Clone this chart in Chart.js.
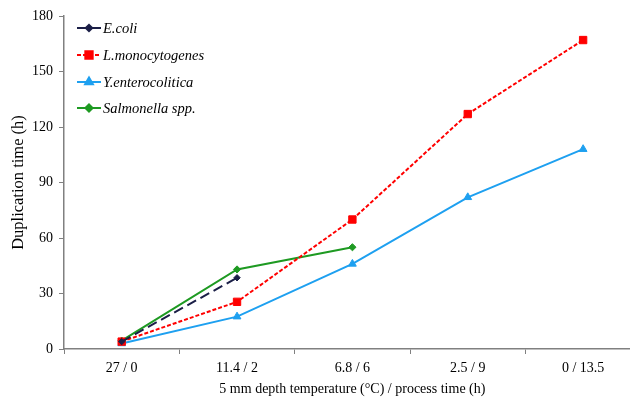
<!DOCTYPE html>
<html lang="en">
  <head>
    <meta charset="UTF-8" />
    <title>Duplication time</title>
    <script src="https://cdn.jsdelivr.net/npm/chart.js"></script>
    <style>
      body {
        margin: 0;
        background: #fff;
        overflow: hidden;
      }
      .wrap {
        width: 647px;
        height: 402px;
        position: relative;
      }
    </style>
  </head>
  <body>
    <div class="wrap">
      <canvas id="chart"></canvas>
    </div>

    <script>
      // categories: 5 mm depth temperature / process time
      const categories = ["27 / 0", "11.4 / 2", "6.8 / 6", "2.5 / 9", "0 / 13.5"];
      const yTicks = [0, 30, 60, 90, 120, 150, 180];

      // duplication time (h)
      const eColi = [4, 38.5, null, null, null];
      const lMono = [4, 25.5, 70, 127, 167];
      const yEnt = [3, 17.5, 46, 82, 108];
      const salmonella = [4.5, 43, 55, null, null];

      const serif = "'Liberation Serif', 'Times New Roman', serif";

      const datasets = [
        {
          label: "E.coli",
          data: eColi,
          borderColor: "#1b1f47",
          backgroundColor: "#1b1f47",
          borderDash: [10, 5],
          pointStyle: "rectRot",
          pointRadius: 3.2,
        },
        {
          label: "L.monocytogenes",
          data: lMono,
          borderColor: "#ff0000",
          backgroundColor: "#ff0000",
          borderDash: [4, 2],
          pointStyle: "rect",
          pointRadius: 5.2,
        },
        {
          label: "Y.enterocolitica",
          data: yEnt,
          borderColor: "#1ea0f0",
          backgroundColor: "#1ea0f0",
          borderDash: [],
          pointStyle: "triangle",
          pointRadius: 4.5,
        },
        {
          label: "Salmonella spp.",
          data: salmonella,
          borderColor: "#1e9a22",
          backgroundColor: "#1e9a22",
          borderDash: [],
          pointStyle: "rectRot",
          pointRadius: 3.6,
        },
      ];
      datasets.forEach((d) => {
        d.borderWidth = 2;
        d.pointBorderWidth = 1;
        d.tension = 0;
        d.spanGaps = false;
      });

      // legend drawn as line sample + marker + italic label
      const lineLegend = {
        id: "lineLegend",
        afterDraw(chart) {
          const ctx = chart.ctx;
          const rows = [28, 55, 82, 108];
          datasets.forEach((d, i) => {
            const y = rows[i];
            ctx.save();
            ctx.strokeStyle = d.borderColor;
            ctx.lineWidth = 2;
            ctx.setLineDash(d.borderDash);
            ctx.beginPath();
            ctx.moveTo(77, y);
            ctx.lineTo(101, y);
            ctx.stroke();
            ctx.setLineDash([]);
            ctx.fillStyle = d.backgroundColor;
            Chart.helpers.drawPoint(ctx, {
              pointStyle: d.pointStyle,
              radius: d.pointRadius,
              borderWidth: 1,
              rotation: 0,
            }, 89, y);
            ctx.font = "italic 14.5px " + serif;
            ctx.fillStyle = "#000";
            ctx.textBaseline = "middle";
            ctx.textAlign = "left";
            ctx.fillText(d.label, 103, y + 1);
            ctx.restore();
          });
        },
      };

      new Chart(document.getElementById("chart"), {
        type: "line",
        data: { labels: categories, datasets: datasets },
        plugins: [lineLegend],
        options: {
          responsive: true,
          maintainAspectRatio: false,
          animation: false,
          layout: { padding: { top: 16, right: 3, left: 0, bottom: 0 } },
          plugins: {
            legend: { display: false },
            tooltip: { enabled: false },
          },
          scales: {
            x: {
              offset: true,
              grid: {
                offset: true,
                drawOnChartArea: false,
                tickLength: 5,
                color: "#808080",
              },
              border: { color: "#808080", width: 1.5 },
              ticks: {
                color: "#000",
                padding: 6,
                font: { family: serif, size: 14 },
              },
              title: {
                display: true,
                text: "5 mm depth temperature (°C) / process time (h)",
                color: "#000",
                font: { family: serif, size: 14 },
                padding: { top: 4, bottom: 4 },
              },
              afterFit(scale) {
                scale.height = 53;
              },
            },
            y: {
              min: 0,
              max: 180,
              afterBuildTicks(scale) {
                scale.ticks = yTicks.map((v) => ({ value: v }));
              },
              grid: {
                drawOnChartArea: false,
                tickLength: 5,
                color: "#808080",
              },
              border: { color: "#808080", width: 1.5 },
              ticks: {
                color: "#000",
                padding: 6,
                font: { family: serif, size: 14 },
              },
              title: {
                display: true,
                text: "Duplication time (h)",
                color: "#000",
                font: { family: serif, size: 16.5 },
                padding: { top: 9, bottom: 0 },
              },
              afterFit(scale) {
                scale.width = 64;
              },
            },
          },
        },
      });
    </script>
  </body>
</html>
